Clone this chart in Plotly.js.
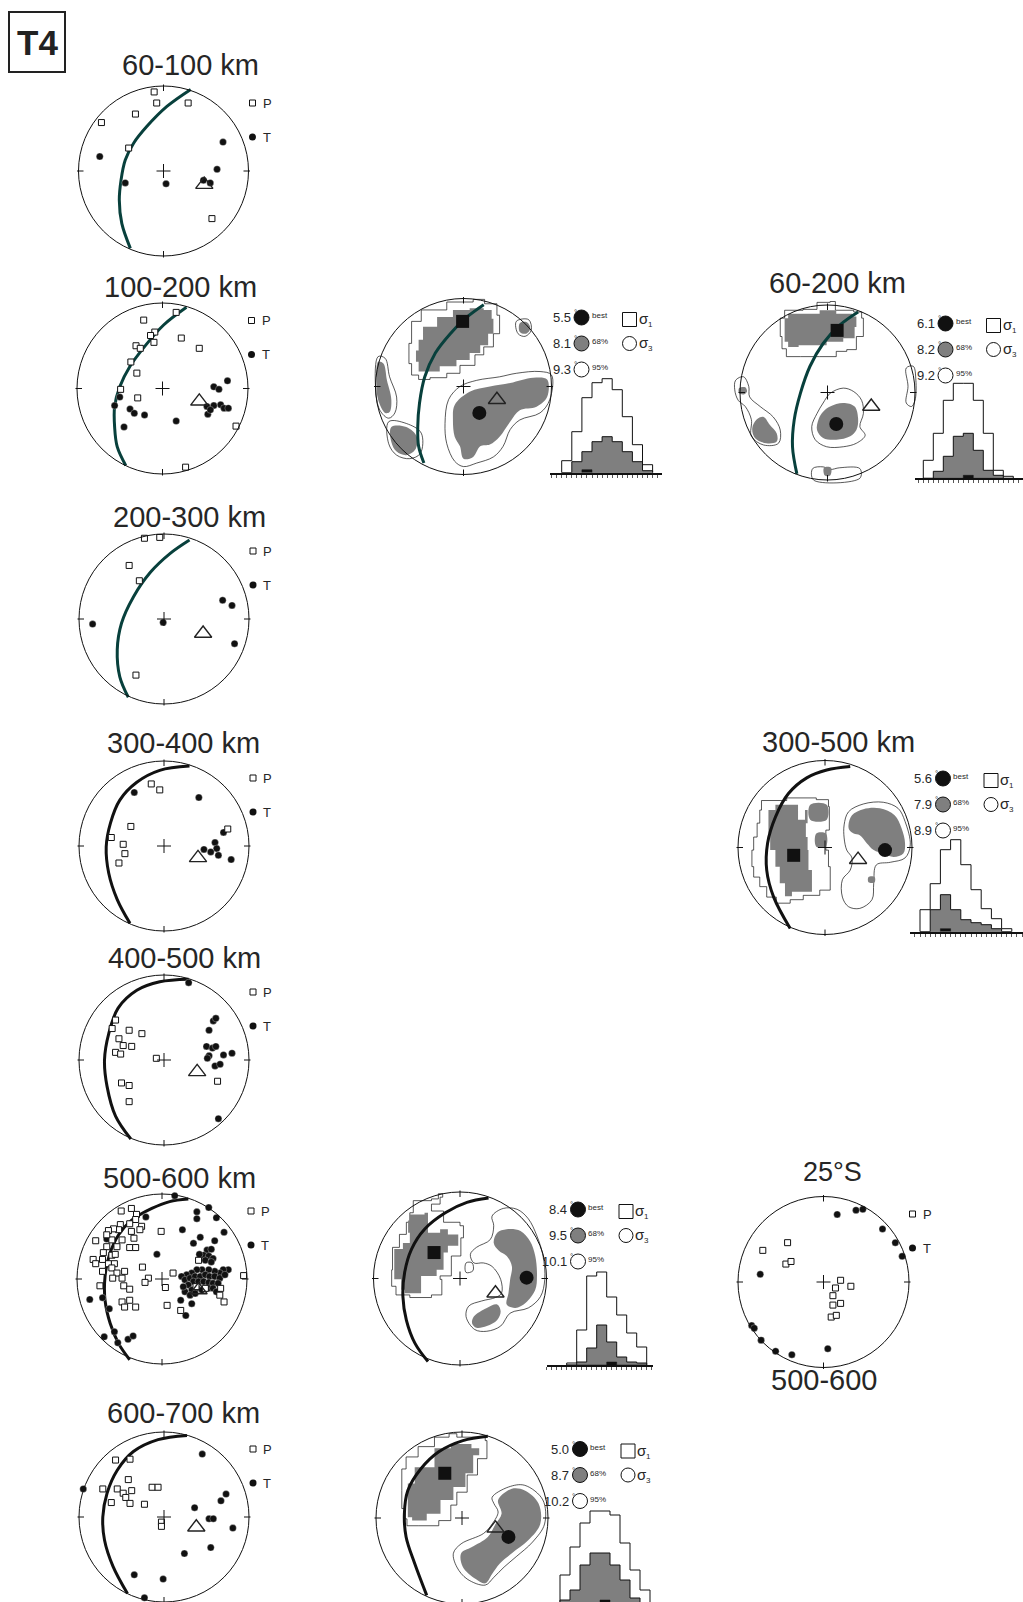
<!DOCTYPE html>
<html><head><meta charset="utf-8">
<script src="https://cdn.plot.ly/plotly-3.0.1.min.js"></script>
<style>html,body{margin:0;padding:0;background:#fff}#chart{width:1023px;height:1602px}</style>
</head><body><div id="chart"></div>
<script>
// ================= DATA (unit-circle stereonet coordinates: x = east, y = north) =================
const PANEL_LABEL = 'T4';
const TITLE_60_100 = '60-100 km', TITLE_100_200 = '100-200 km', TITLE_200_300 = '200-300 km',
      TITLE_300_400 = '300-400 km', TITLE_400_500 = '400-500 km', TITLE_500_600 = '500-600 km',
      TITLE_600_700 = '600-700 km', TITLE_60_200 = '60-200 km', TITLE_300_500 = '300-500 km',
      TITLE_25S = '25°S', TITLE_25S_DEPTH = '500-600';
const AXIS_LABELS = ['P', 'T'];
const CONF_LABELS = ['best', '68%', '95%'];
const STRESS_LABELS = ['σ', 'σ'], STRESS_SUBS = ['1', '3'];

// ---- 60-100 km ----
const P_60_100 = [[-0.11,0.93],[-0.08,0.80],[0.29,0.80],[-0.33,0.67],[-0.73,0.57],[-0.41,0.27],[0.57,-0.56]];
const T_60_100 = [[0.70,0.34],[-0.75,0.17],[-0.45,-0.14],[0.03,-0.15],[0.63,0.02],[0.47,-0.11],[0.55,-0.14]];
const AX_60_100 = [0.48,-0.16];
const GC_60_100 = [[0.32,0.96],[0.04,0.76],[-0.20,0.52],[-0.35,0.33],[-0.45,0.13],[-0.50,-0.11],[-0.52,-0.34],[-0.49,-0.62],[-0.39,-0.91]];

// ---- 100-200 km ----
const P_100_200 = [[-0.22,0.80],[0.16,0.89],[-0.09,0.66],[-0.14,0.62],[-0.10,0.54],[0.22,0.59],[0.43,0.47],[-0.31,0.50],[-0.26,0.47],[-0.37,0.31],[-0.30,0.18],[-0.49,-0.01],[-0.29,-0.11],[0.86,-0.44],[0.27,-0.92]];
const T_100_200 = [[-0.50,-0.10],[-0.56,-0.20],[-0.38,-0.24],[-0.33,-0.29],[-0.21,-0.31],[-0.45,-0.45],[0.16,-0.38],[0.60,0.02],[0.66,-0.01],[0.76,0.09],[0.52,-0.21],[0.53,-0.30],[0.60,-0.20],[0.68,-0.19],[0.72,-0.23],[0.77,-0.23],[0.56,-0.25]];
const AX_100_200 = [0.43,-0.15];
const GC_100_200 = [[0.28,0.95],[0.01,0.74],[-0.21,0.49],[-0.38,0.26],[-0.50,0.02],[-0.56,-0.21],[-0.56,-0.45],[-0.53,-0.68],[-0.43,-0.90]];

// ---- 200-300 km ----
const P_200_300 = [[-0.23,0.95],[-0.05,0.96],[-0.41,0.63],[-0.29,0.45],[-0.33,-0.66]];
const T_200_300 = [[-0.84,-0.06],[-0.01,-0.04],[0.69,0.22],[0.80,0.16],[0.83,-0.29]];
const AX_200_300 = [0.46,-0.17];
const GC_200_300 = [[0.30,0.93],[0.07,0.77],[-0.16,0.55],[-0.36,0.26],[-0.50,-0.05],[-0.55,-0.36],[-0.52,-0.68],[-0.42,-0.92]];

// ---- 300-400 km ----
const P_300_400 = [[-0.15,0.73],[-0.05,0.66],[-0.39,0.23],[-0.62,0.10],[-0.48,0.02],[-0.46,-0.09],[-0.53,-0.20],[0.75,0.20]];
const T_300_400 = [[-0.35,0.63],[0.41,0.57],[0.70,0.16],[0.60,0.04],[0.62,-0.03],[0.47,-0.04],[0.55,-0.07],[0.64,-0.11],[0.79,-0.16]];
const AX_300_400 = [0.40,-0.14];
const GC_300_400 = [[0.30,0.94],[-0.05,0.89],[-0.32,0.75],[-0.52,0.54],[-0.63,0.27],[-0.68,-0.01],[-0.65,-0.32],[-0.55,-0.63],[-0.40,-0.91]];

// ---- 400-500 km ----
const P_400_500 = [[-0.57,0.47],[-0.61,0.37],[-0.41,0.35],[-0.26,0.31],[-0.53,0.25],[-0.48,0.17],[-0.38,0.16],[-0.57,0.09],[-0.51,0.07],[-0.09,0.02],[-0.50,-0.27],[-0.41,-0.30],[-0.41,-0.49],[0.63,-0.25]];
const T_400_500 = [[0.29,0.91],[0.58,0.46],[0.61,0.49],[0.53,0.35],[0.50,0.16],[0.57,0.14],[0.61,0.16],[0.53,0.05],[0.51,0.02],[0.70,0.06],[0.80,0.08],[0.60,-0.07],[0.66,-0.05],[0.64,-0.69]];
const AX_400_500 = [0.39,-0.14];
const GC_400_500 = [[0.29,0.95],[-0.05,0.92],[-0.32,0.82],[-0.54,0.61],[-0.65,0.31],[-0.70,0.00],[-0.67,-0.31],[-0.57,-0.66],[-0.39,-0.93]];

// ---- 500-600 km ----
const P_500_600 = [[-0.48,0.80],[-0.36,0.83],[-0.30,0.76],[-0.31,0.70],[-0.24,0.62],[-0.38,0.65],[-0.49,0.64],[-0.51,0.58],[-0.57,0.59],[-0.63,0.57],[-0.59,0.46],[-0.65,0.52],[-0.47,0.46],[-0.36,0.56],[-0.33,0.48],[-0.38,0.37],[-0.31,0.37],[-0.78,0.45],[-0.65,0.38],[-0.69,0.31],[-0.53,0.38],[-0.59,0.28],[-0.55,0.29],[-0.81,0.23],[-0.78,0.18],[-0.70,0.23],[-0.63,0.18],[-0.56,0.18],[-0.44,0.09],[-0.70,0.09],[-0.59,0.13],[-0.53,0.07],[-0.58,0.01],[-0.47,0.01],[-0.73,-0.08],[-0.45,-0.08],[-0.38,-0.12],[-0.47,-0.27],[-0.38,-0.25],[-0.31,-0.33],[-0.44,-0.33],[-0.23,0.14],[-0.16,0.01],[-0.20,-0.04],[-0.01,0.56],[0.13,0.07],[0.04,-0.10],[0.06,-0.31],[0.22,-0.37],[0.69,-0.11],[0.68,-0.19],[0.73,-0.27],[0.96,0.04],[0.43,0.22],[0.40,-0.09],[0.51,-0.11],[-0.26,0.58]];
const T_500_600 = [[0.15,0.98],[-0.19,0.73],[0.41,0.79],[0.41,0.71],[0.55,0.84],[0.64,0.72],[0.73,0.55],[0.24,0.58],[0.45,0.49],[0.37,0.42],[0.62,0.45],[-0.06,0.29],[-0.65,0.47],[-0.85,-0.24],[-0.70,-0.22],[-0.62,-0.35],[-0.68,-0.68],[-0.56,-0.62],[-0.52,-0.75],[-0.40,-0.71],[-0.34,-0.67],[0.22,-0.25],[0.28,-0.43],[0.35,-0.29],
  [0.53,0.34],[0.58,0.35],[0.49,0.28],[0.55,0.27],[0.60,0.24],[0.44,0.29],[0.51,0.22],[0.58,0.20],[0.78,0.11],[0.72,0.11],[0.68,0.07],[0.62,0.09],[0.55,0.11],[0.47,0.11],[0.41,0.11],[0.35,0.07],[0.29,0.05],[0.23,0.03],[0.27,-0.01],[0.33,0.01],[0.39,0.03],[0.45,0.03],[0.51,0.05],[0.56,0.03],[0.62,0.03],[0.68,0.01],[0.74,0.05],[0.37,-0.03],[0.43,-0.03],[0.49,-0.03],[0.55,-0.04],[0.60,-0.05],[0.66,-0.05],[0.31,-0.07],[0.35,-0.13],[0.41,-0.11],[0.47,-0.13],[0.55,-0.11],[0.60,-0.11],[0.27,-0.15],[0.33,-0.19],[0.39,-0.17],[0.64,-0.15],[0.25,-0.09]];
const AX_500_600 = [0.43,-0.13];
const GC_500_600 = [[0.31,0.94],[0.09,0.91],[-0.12,0.83],[-0.36,0.69],[-0.51,0.52],[-0.62,0.28],[-0.67,0.03],[-0.67,-0.25],[-0.61,-0.52],[-0.51,-0.76],[-0.38,-0.95]];

// ---- 600-700 km ----
const P_600_700 = [[-0.57,0.67],[-0.40,0.68],[-0.42,0.44],[-0.72,0.33],[-0.55,0.33],[-0.38,0.31],[-0.48,0.28],[-0.45,0.23],[-0.62,0.17],[-0.40,0.16],[-0.23,0.15],[-0.14,0.35],[-0.07,0.35],[-0.03,-0.06],[-0.03,-0.11]];
const T_600_700 = [[-0.95,0.33],[0.45,0.74],[0.73,0.27],[0.67,0.19],[0.36,0.11],[0.53,-0.02],[0.58,-0.02],[0.81,-0.13],[0.55,-0.36],[0.24,-0.43],[-0.35,-0.68],[-0.01,-0.73],[-0.23,-0.95]];
const AX_600_700 = [0.38,-0.12];
const GC_600_700 = [[0.27,0.96],[-0.07,0.91],[-0.36,0.77],[-0.55,0.55],[-0.67,0.28],[-0.72,0.00],[-0.70,-0.27],[-0.60,-0.58],[-0.43,-0.90]];

// ---- 25°S, 500-600 km ----
const P_25S = [[-0.42,0.46],[-0.71,0.37],[-0.44,0.21],[-0.38,0.24],[0.20,0.02],[0.14,-0.07],[0.32,-0.05],[0.11,-0.16],[0.11,-0.27],[0.20,-0.25],[0.09,-0.41],[0.15,-0.39]];
const T_25S = [[0.16,0.79],[0.38,0.84],[0.46,0.85],[0.69,0.62],[0.84,0.46],[0.92,0.30],[-0.74,0.09],[-0.84,-0.51],[-0.81,-0.54],[-0.73,-0.68],[-0.56,-0.81],[-0.37,-0.85],[0.05,-0.78]];

// ---- Bootstrap: 100-200 km ----
const B1_MISFIT = ['5.5','8.1','9.3'];
const B1_S1_95 = [[-0.59,0.74],[-0.48,0.87],[-0.19,0.96],[0.11,0.99],[0.24,0.94],[0.38,0.81],[0.41,0.60],[0.34,0.45],[0.23,0.36],[0.13,0.24],[-0.04,0.15],[-0.19,0.10],[-0.38,0.08],[-0.51,0.13],[-0.59,0.26],[-0.62,0.49]];
const B1_S1_68 = [[-0.51,0.53],[-0.46,0.68],[-0.30,0.79],[-0.12,0.87],[0.07,0.89],[0.23,0.87],[0.32,0.77],[0.34,0.60],[0.28,0.47],[0.19,0.38],[0.07,0.30],[-0.08,0.23],[-0.27,0.17],[-0.42,0.17],[-0.51,0.28],[-0.54,0.41]];
const B1_S3_95 = [[-0.17,-0.15],[-0.04,0.00],[0.15,0.07],[0.41,0.11],[0.60,0.15],[0.87,0.17],[1.00,0.13],[0.98,-0.15],[0.87,-0.30],[0.64,-0.38],[0.53,-0.49],[0.45,-0.68],[0.34,-0.80],[0.15,-0.87],[0.00,-0.91],[-0.10,-0.85],[-0.19,-0.65],[-0.21,-0.42]];
const B1_S3_68 = [[-0.10,-0.21],[0.07,-0.06],[0.30,0.00],[0.53,0.04],[0.79,0.10],[0.95,0.08],[0.95,-0.12],[0.83,-0.23],[0.64,-0.27],[0.53,-0.40],[0.41,-0.57],[0.30,-0.66],[0.19,-0.68],[0.11,-0.80],[0.00,-0.82],[-0.04,-0.68],[-0.10,-0.57],[-0.12,-0.38]];
const B1_X95 = [
  [[0.60,0.74],[0.74,0.76],[0.77,0.64],[0.70,0.57],[0.62,0.60]],
  [[-0.97,0.34],[-0.89,0.32],[-0.84,0.11],[-0.76,-0.12],[-0.78,-0.30],[-0.85,-0.36],[-0.95,-0.27],[-1.0,0.00]],
  [[-0.85,-0.40],[-0.65,-0.42],[-0.48,-0.53],[-0.49,-0.76],[-0.61,-0.82],[-0.76,-0.78],[-0.85,-0.65]]];
const B1_X68 = [
  [[0.64,0.72],[0.72,0.73],[0.76,0.66],[0.71,0.60],[0.64,0.62]],
  [[-0.97,0.28],[-0.91,0.26],[-0.87,0.07],[-0.82,-0.15],[-0.84,-0.29],[-0.89,-0.30],[-0.97,-0.15],[-0.99,0.07]],
  [[-0.82,-0.46],[-0.65,-0.46],[-0.53,-0.57],[-0.55,-0.72],[-0.65,-0.78],[-0.76,-0.74],[-0.82,-0.63]]];
const B1_BEST_S1 = [-0.01,0.74], B1_BEST_S3 = [0.18,-0.30], B1_AX = [0.38,-0.15];
const B1_GC = [[0.23,0.93],[0.04,0.79],[-0.15,0.60],[-0.32,0.38],[-0.44,0.11],[-0.50,-0.19],[-0.52,-0.46],[-0.51,-0.68],[-0.45,-0.87]];
const B1_HIST_ALL = [12,41,75,90,94,83,56,28,8];
const B1_HIST_68  = [0,11,21,31,36,31,21,11,2];
const B1_HIST_BEST= [0,0,3,0,0,0,0,0,0];

// ---- Bootstrap: 60-200 km ----
const B2_MISFIT = ['6.1','8.2','9.2'];
const B2_S1_95 = [[-0.54,0.85],[-0.49,0.94],[-0.28,0.95],[-0.12,1.03],[0.03,1.04],[0.09,0.94],[0.30,0.92],[0.39,0.85],[0.41,0.64],[0.33,0.49],[0.22,0.47],[0.10,0.41],[-0.09,0.41],[-0.31,0.41],[-0.47,0.50],[-0.52,0.64]];
const B2_S1_68 = [[-0.49,0.85],[-0.45,0.90],[-0.28,0.90],[-0.09,0.94],[0.10,0.90],[0.28,0.87],[0.33,0.75],[0.31,0.62],[0.18,0.58],[-0.01,0.54],[-0.20,0.54],[-0.33,0.52],[-0.45,0.58],[-0.49,0.70]];
const B2_S3_95 = [[0.03,-0.01],[0.18,0.05],[0.30,0.01],[0.39,-0.09],[0.41,-0.24],[0.37,-0.39],[0.43,-0.49],[0.33,-0.58],[0.18,-0.62],[-0.01,-0.62],[-0.14,-0.54],[-0.18,-0.39],[-0.12,-0.24],[-0.05,-0.12]];
const B2_S3_68 = [[0.03,-0.16],[0.18,-0.12],[0.31,-0.16],[0.35,-0.30],[0.33,-0.43],[0.26,-0.50],[0.10,-0.54],[-0.05,-0.52],[-0.12,-0.43],[-0.10,-0.30],[-0.05,-0.22]];
const B2_X95 = [
  [[-1.05,0.14],[-0.96,0.18],[-0.90,0.07],[-0.89,-0.05],[-0.77,-0.16],[-0.62,-0.28],[-0.54,-0.43],[-0.56,-0.58],[-0.73,-0.60],[-0.87,-0.50],[-0.87,-0.31],[-0.94,-0.16],[-1.02,-0.09],[-1.06,0.03]],
  [[0.90,0.28],[0.98,0.30],[1.01,0.14],[1.00,-0.09],[0.96,-0.16],[0.90,-0.12],[0.92,0.07]],
  [[-0.17,-0.87],[-0.05,-0.85],[0.03,-0.88],[0.14,-0.86],[0.37,-0.87],[0.37,-0.98],[-0.16,-1.0]]];
const B2_X68 = [
  [[-1.01,0.05],[-0.94,0.06],[-0.92,0.01],[-0.95,-0.02],[-1.01,-0.01]],
  [[-0.81,-0.31],[-0.73,-0.28],[-0.66,-0.37],[-0.58,-0.47],[-0.58,-0.56],[-0.70,-0.58],[-0.83,-0.52],[-0.86,-0.41]],
  [[-0.04,-0.86],[0.04,-0.86],[0.03,-0.95],[-0.03,-0.95]]];
const B2_BEST_S1 = [0.11,0.71], B2_BEST_S3 = [0.10,-0.36], B2_AX = [0.50,-0.16];
const B2_GC = [[0.35,0.92],[0.14,0.77],[-0.05,0.56],[-0.20,0.30],[-0.31,-0.01],[-0.38,-0.31],[-0.40,-0.62],[-0.35,-0.93]];
const B2_HIST_ALL = [18,45,78,95,95,78,45,8,2];
const B2_HIST_68  = [0,7,22,42,45,28,8,3,0];
const B2_HIST_BEST= [0,0,0,0,3,0,0,0,0];

// ---- Bootstrap: 300-500 km ----
const B3_MISFIT = ['5.6','7.9','8.9'];
const B3_S1_95 = [[-0.75,0.43],[-0.73,0.54],[-0.44,0.57],[-0.10,0.55],[0.04,0.47],[0.05,0.20],[0.01,-0.03],[0.04,-0.22],[0.06,-0.49],[-0.06,-0.55],[-0.25,-0.60],[-0.40,-0.64],[-0.56,-0.57],[-0.67,-0.45],[-0.75,-0.34],[-0.82,-0.22],[-0.84,-0.03],[-0.82,0.12],[-0.78,0.28]];
const B3_S1_68 = [[-0.65,0.43],[-0.57,0.49],[-0.34,0.49],[-0.31,0.43],[-0.31,0.32],[-0.25,0.32],[-0.23,0.43],[-0.20,0.47],[-0.20,0.28],[-0.22,0.12],[-0.20,-0.03],[-0.19,-0.26],[-0.15,-0.51],[-0.38,-0.56],[-0.46,-0.41],[-0.52,-0.22],[-0.57,-0.03],[-0.63,0.16],[-0.65,0.32]];
const B3_S3_95 = [[0.22,0.26],[0.27,0.41],[0.44,0.50],[0.67,0.52],[0.84,0.45],[0.92,0.30],[0.98,0.03],[0.92,-0.12],[0.75,-0.17],[0.59,-0.20],[0.56,-0.41],[0.54,-0.60],[0.40,-0.70],[0.27,-0.68],[0.20,-0.57],[0.20,-0.37],[0.29,-0.26],[0.31,-0.12],[0.25,-0.03],[0.22,0.11]];
const B3_S3_68 = [[0.27,0.26],[0.31,0.37],[0.44,0.44],[0.63,0.45],[0.80,0.37],[0.88,0.22],[0.92,0.05],[0.90,-0.07],[0.79,-0.11],[0.67,-0.07],[0.56,-0.03],[0.48,0.05],[0.40,0.14],[0.33,0.16],[0.28,0.20]];
const B3_X95 = [];
const B3_X68 = [
  [[-0.17,0.49],[0.02,0.49],[0.02,0.32],[-0.17,0.32]],
  [[-0.10,0.16],[0.01,0.16],[0.01,0.01],[-0.10,0.01]],
  [[0.50,-0.34],[0.57,-0.34],[0.57,-0.40],[0.50,-0.40]]];
const B3_BEST_S1 = [-0.36,-0.09], B3_BEST_S3 = [0.69,-0.03], B3_AX = [0.38,-0.14];
const B3_GC = [[0.29,0.93],[0.02,0.89],[-0.21,0.80],[-0.42,0.62],[-0.57,0.35],[-0.66,0.05],[-0.67,-0.26],[-0.59,-0.57],[-0.40,-0.93]];
const B3_HIST_ALL = [22,48,82,92,67,42,23,13,3];
const B3_HIST_68  = [0,22,37,22,12,9,7,3,0];
const B3_HIST_BEST= [0,0,3,0,0,0,0,0,0];

// ---- Bootstrap: 500-600 km ----
const B4_MISFIT = ['8.4','9.5','10.1'];
const B4_S1_95 = [[-0.58,0.76],[-0.54,0.90],[-0.33,0.92],[-0.25,0.98],[-0.20,0.94],[-0.23,0.86],[-0.33,0.78],[-0.19,0.65],[0.00,0.61],[0.04,0.47],[0.01,0.26],[-0.10,0.03],[-0.23,-0.01],[-0.21,-0.19],[-0.33,-0.22],[-0.58,-0.19],[-0.74,-0.09],[-0.79,0.10],[-0.78,0.36],[-0.70,0.51],[-0.62,0.65]];
const B4_S1_68 = [[-0.58,0.74],[-0.41,0.76],[-0.37,0.65],[-0.37,0.53],[-0.23,0.57],[-0.14,0.51],[-0.04,0.51],[-0.02,0.38],[-0.14,0.30],[-0.19,0.10],[-0.27,0.03],[-0.45,-0.07],[-0.45,-0.17],[-0.64,-0.13],[-0.68,-0.01],[-0.76,0.18],[-0.76,0.34],[-0.66,0.41],[-0.58,0.53],[-0.60,0.67]];
const B4_S3_95 = [[0.37,0.72],[0.50,0.81],[0.66,0.80],[0.79,0.69],[0.89,0.49],[0.96,0.26],[0.98,-0.01],[0.93,-0.21],[0.79,-0.34],[0.58,-0.40],[0.47,-0.55],[0.31,-0.61],[0.17,-0.59],[0.07,-0.44],[0.10,-0.32],[0.25,-0.26],[0.41,-0.22],[0.48,-0.17],[0.47,-0.01],[0.37,0.14],[0.27,0.18],[0.16,0.18],[0.12,0.28],[0.19,0.36],[0.35,0.45],[0.39,0.61]];
const B4_S3_68 = [[0.43,0.53],[0.54,0.57],[0.70,0.55],[0.81,0.43],[0.87,0.26],[0.89,0.03],[0.87,-0.13],[0.76,-0.28],[0.64,-0.34],[0.54,-0.30],[0.56,-0.17],[0.58,-0.01],[0.60,0.14],[0.54,0.26],[0.45,0.32],[0.39,0.41]];
const B4_X95 = [[[0.07,0.18],[0.14,0.18],[0.15,0.09],[0.07,0.07]]];
const B4_X68 = [[[0.16,-0.44],[0.31,-0.34],[0.43,-0.30],[0.47,-0.38],[0.43,-0.48],[0.31,-0.55],[0.19,-0.57],[0.14,-0.52]]];
const B4_BEST_S1 = [-0.30,0.30], B4_BEST_S3 = [0.77,0.01], B4_AX = [0.41,-0.17];
const B4_GC = [[0.33,0.93],[0.08,0.88],[-0.17,0.76],[-0.41,0.57],[-0.56,0.34],[-0.64,0.07],[-0.66,-0.21],[-0.62,-0.48],[-0.52,-0.75],[-0.37,-0.96]];
const B4_HIST_ALL = [2,35,89,93,68,50,32,18];
const B4_HIST_68  = [0,3,17,40,23,8,3,2];
const B4_HIST_BEST= [0,0,0,0,3,0,0,0];

// ---- Bootstrap: 600-700 km ----
const B5_MISFIT = ['5.0','8.7','10.2'];
const B5_S1_95 = [[-0.70,0.57],[-0.65,0.71],[-0.51,0.83],[-0.32,0.94],[-0.15,0.98],[-0.06,0.94],[0.27,0.90],[0.29,0.69],[0.18,0.50],[0.06,0.30],[-0.06,0.15],[-0.13,-0.03],[-0.27,-0.09],[-0.51,-0.09],[-0.64,-0.01],[-0.66,0.11],[-0.70,0.32]];
const B5_S1_68 = [[-0.63,0.40],[-0.55,0.59],[-0.32,0.81],[-0.13,0.86],[0.11,0.81],[0.20,0.73],[0.13,0.52],[0.04,0.36],[-0.10,0.21],[-0.25,0.05],[-0.41,-0.03],[-0.58,0.01],[-0.63,0.17]];
const B5_S3_95 = [[0.35,0.24],[0.54,0.36],[0.73,0.38],[0.94,0.21],[0.96,-0.07],[0.82,-0.28],[0.63,-0.45],[0.49,-0.57],[0.37,-0.69],[0.27,-0.78],[0.06,-0.71],[-0.06,-0.57],[-0.10,-0.41],[-0.01,-0.30],[0.25,-0.18],[0.35,-0.07],[0.42,0.07],[0.37,0.17]];
const B5_S3_68 = [[0.42,0.21],[0.58,0.34],[0.73,0.32],[0.89,0.17],[0.91,-0.07],[0.77,-0.26],[0.58,-0.41],[0.44,-0.53],[0.35,-0.65],[0.27,-0.76],[0.16,-0.71],[0.01,-0.57],[-0.01,-0.41],[0.11,-0.34],[0.30,-0.22],[0.39,-0.07],[0.46,0.05]];
const B5_X95 = [], B5_X68 = [];
const B5_BEST_S1 = [-0.20,0.52], B5_BEST_S3 = [0.54,-0.22], B5_AX = [0.39,-0.12];
const B5_GC = [[0.30,0.95],[0.01,0.90],[-0.27,0.77],[-0.48,0.57],[-0.63,0.32],[-0.67,0.05],[-0.65,-0.22],[-0.55,-0.53],[-0.41,-0.90]];
const B5_HIST_ALL = [31,59,83,95,95,91,63,36,16];
const B5_HIST_68  = [6,16,41,53,53,41,26,8,0];
const B5_HIST_BEST= [0,0,0,0,6,0,0,0,0];

// ================= LAYOUT / RENDERING =================
const W = 1023, H = 1602;
const FONT = 'Liberation Sans, Arial, Helvetica, sans-serif';
const INK = '#111', TXT = '#262626', GRAY = '#7f7f7f', TEAL = '#08403c';
const traces = [], shapes = [], annotations = [];
const layout = {width: W, height: H, margin: {l:0, r:0, t:0, b:0}, paper_bgcolor: '#fff',
  plot_bgcolor: 'rgba(0,0,0,0)', showlegend: false, shapes, annotations,
  font: {family: FONT, color: TXT}};
let axCount = 0;
function addAxes(px0, px1, py0, py1, xr, yr) {
  axCount++;
  const s = axCount === 1 ? '' : String(axCount);
  layout['xaxis' + s] = {domain: [px0 / W, px1 / W], range: xr, visible: false, fixedrange: true,
    anchor: 'y' + s, showgrid: false, zeroline: false};
  layout['yaxis' + s] = {domain: [1 - py1 / H, 1 - py0 / H], range: yr, visible: false, fixedrange: true,
    anchor: 'x' + s, showgrid: false, zeroline: false};
  return {x: 'x' + s, y: 'y' + s, xa: 'xaxis' + s, ya: 'yaxis' + s};
}
function netAxes(cx, cy, R) {
  const E = 2.4;
  const px0 = Math.max(0, cx - E * R), px1 = Math.min(W, cx + E * R);
  const py0 = Math.max(0, cy - E * R), py1 = Math.min(H, cy + E * R);
  const a = addAxes(px0, px1, py0, py1, [(px0 - cx) / R, (px1 - cx) / R], [(cy - py1) / R, (cy - py0) / R]);
  a.R = R; return a;
}
const xs = pts => pts.map(p => p[0]), ys = pts => pts.map(p => p[1]);
function base(a) { return {type: 'scatter', xaxis: a.x, yaxis: a.y, hoverinfo: 'skip', cliponaxis: false, showlegend: false}; }
function note(a, x, y, text, size, anchor, yanchor) {
  annotations.push({xref: a.x, yref: a.y, x: x, y: y, text: text, showarrow: false,
    xanchor: anchor || 'left', yanchor: yanchor || 'middle', font: {size: size, color: TXT, family: FONT}});
}
function mk(a, x, y, symbol, size, color, lineColor, lw) {
  traces.push(Object.assign(base(a), {mode: 'markers', x: [x], y: [y],
    marker: {symbol: symbol, size: size, color: color, line: {color: lineColor, width: lw}}}));
}

function frame(a) {
  const R = a.R, tin = 1 - 5 / R, tout = 1 + 1.5 / R;
  shapes.push({type: 'circle', xref: a.x, yref: a.y, x0: -1, x1: 1, y0: -1, y1: 1, line: {color: INK, width: 1}, layer: 'above'});
  [[0,1],[0,-1],[1,0],[-1,0]].forEach(([dx, dy]) => shapes.push({type: 'line', xref: a.x, yref: a.y,
    x0: dx * tin, y0: dy * tin, x1: dx * tout, y1: dy * tout, line: {color: INK, width: 1}, layer: 'above'}));
  mk(a, 0, 0, 'cross-thin', 10, INK, INK, 1);
}
function greatCircle(a, pts, color) {
  traces.push(Object.assign(base(a), {mode: 'lines', x: xs(pts), y: ys(pts),
    line: {color: color, width: 3, shape: 'spline', smoothing: 1}}));
}
function points(a, P, T) {
  traces.push(Object.assign(base(a), {mode: 'markers', x: xs(T), y: ys(T),
    marker: {symbol: 'circle', size: 7, color: INK, line: {color: '#fff', width: 0.3}}}));
  traces.push(Object.assign(base(a), {mode: 'markers', x: xs(P), y: ys(P),
    marker: {symbol: 'square', size: 6, color: '#fff', line: {color: INK, width: 1}}}));
}
function axisMark(a, p) {
  traces.push(Object.assign(base(a), {mode: 'markers', x: [p[0]], y: [p[1]],
    marker: {symbol: 'triangle-up-open', size: 15, color: '#222', line: {width: 1.4}}}));
}
function ptLegend(a) {
  const R = a.R;
  mk(a, 89 / R, 68 / R, 'square', 6, '#fff', INK, 1);
  mk(a, 89 / R, 34 / R, 'circle', 7, INK, INK, 0);
  note(a, 97 / R, 68 / R, AXIS_LABELS[0], 13);
  note(a, 97 / R, 34 / R, AXIS_LABELS[1], 13);
}
function poly(a, pts, fill, lineColor, lw, shape) {
  const p = pts.concat([pts[0]]);
  traces.push(Object.assign(base(a), {mode: 'lines', x: xs(p), y: ys(p), fill: 'toself', fillcolor: fill,
    line: {color: lineColor, width: lw, shape: shape, smoothing: 1}}));
}
function title(text, x, y, size) {
  annotations.push({xref: 'paper', yref: 'paper', x: x / W, y: 1 - y / H, text: text, showarrow: false,
    xanchor: 'center', yanchor: 'middle', font: {size: size || 29, color: TXT, family: FONT}});
}
function plainNet(cfg) {
  const a = netAxes(cfg.cx, cfg.cy, cfg.R);
  if (cfg.gc) greatCircle(a, cfg.gc, cfg.gcColor);
  points(a, cfg.P, cfg.T);
  if (cfg.ax) axisMark(a, cfg.ax);
  frame(a); ptLegend(a);
  return a;
}
function histogram(h, all, g68, best) {
  const top = h.B - 112, bot = Math.min(H, h.B);
  const a = addAxes(h.ax0, h.ax1, top, bot, [(h.ax0 - h.L) / h.w, (h.ax1 - h.L) / h.w], [h.B - bot, 112]);
  Object.assign(layout[a.xa], {visible: true, showline: h.line !== false, linecolor: INK, linewidth: 2,
    ticks: h.line !== false ? 'outside' : '', ticklen: 3, tickwidth: 0.7, tickcolor: INK, tick0: 0, dtick: 0.5,
    showticklabels: false});
  const step = c => { const X = [0], Y = [0]; c.forEach((v, i) => { X.push(i); Y.push(v); });
    X.push(c.length); Y.push(c[c.length - 1]); X.push(c.length); Y.push(0); return [X, Y]; };
  [[all, '#fff', 1], [g68, GRAY, 1], [best, INK, 0.5]].forEach(([c, f, lw]) => {
    const [X, Y] = step(c);
    traces.push({type: 'scatter', mode: 'lines', x: X, y: Y, xaxis: a.x, yaxis: a.y, fill: 'tozeroy',
      fillcolor: f, line: {color: INK, width: lw, shape: 'hv'}, hoverinfo: 'skip', showlegend: false, cliponaxis: true});
  });
}
function bootNet(cfg) {
  const a = netAxes(cfg.cx, cfg.cy, cfg.R), R = cfg.R;
  cfg.x95.forEach(p => poly(a, p, '#fff', INK, 0.7, 'spline'));
  poly(a, cfg.s1_95, '#fff', INK, 0.7, 'hv');
  poly(a, cfg.s3_95, '#fff', INK, 0.7, 'spline');
  cfg.x68.forEach(p => poly(a, p, GRAY, 'rgba(0,0,0,0)', 0, 'spline'));
  poly(a, cfg.s1_68, GRAY, 'rgba(0,0,0,0)', 0, 'hv');
  poly(a, cfg.s3_68, GRAY, 'rgba(0,0,0,0)', 0, 'spline');
  greatCircle(a, cfg.gc, cfg.gcColor);
  mk(a, cfg.b1[0], cfg.b1[1], 'square', 13, INK, INK, 0);
  mk(a, cfg.b3[0], cfg.b3[1], 'circle', 14, INK, INK, 0);
  axisMark(a, cfg.ax);
  frame(a);
  // misfit / confidence legend
  const cxL = 118 / R, rows = [69 / R, 43 / R, 17 / R], sx = 166 / R;
  [INK, GRAY, '#fff'].forEach((c, i) => mk(a, cxL, rows[i], 'circle', 15, c, INK, 1));
  mk(a, sx, rows[0] - 2 / R, 'square', 14, '#fff', INK, 1);
  mk(a, sx, rows[1], 'circle', 14, '#fff', INK, 1);
  [0, 1].forEach(i => {
    const yy = i === 0 ? rows[0] - 2 / R : rows[1];
    note(a, (sx * R + 7) / R, yy + 1 / R, STRESS_LABELS[i], 15);
    note(a, (sx * R + 16) / R, yy - 5 / R, STRESS_SUBS[i], 8);
  });
  cfg.misfit.forEach((m, i) => {
    note(a, (118 - 9) / R, rows[i], m, 13, 'right');
    note(a, (118 - 10) / R, rows[i] + 5 / R, '°', 8, 'left');
    note(a, (118 + 8) / R, rows[i] + 2 / R, CONF_LABELS[i], 8);
  });
  histogram(cfg.hist, cfg.all, cfg.g68, cfg.best);
}

// ---- panel label ----
shapes.push({type: 'rect', xref: 'paper', yref: 'paper', x0: 9 / W, x1: 65 / W, y0: 1 - 72 / H, y1: 1 - 12 / H,
  line: {color: '#222', width: 2}, fillcolor: 'rgba(0,0,0,0)'});
annotations.push({xref: 'paper', yref: 'paper', x: 37 / W, y: 1 - 43 / H, text: '<b>' + PANEL_LABEL + '</b>', showarrow: false,
  xanchor: 'center', yanchor: 'middle', font: {size: 35, color: '#222', family: FONT}});

// ---- left column + 25°S ----
plainNet({cx: 163.5, cy: 171, R: 85, P: P_60_100, T: T_60_100, ax: AX_60_100, gc: GC_60_100, gcColor: TEAL});
plainNet({cx: 162.5, cy: 388.5, R: 85.5, P: P_100_200, T: T_100_200, ax: AX_100_200, gc: GC_100_200, gcColor: TEAL});
plainNet({cx: 164, cy: 619, R: 85, P: P_200_300, T: T_200_300, ax: AX_200_300, gc: GC_200_300, gcColor: TEAL});
plainNet({cx: 164, cy: 846, R: 85, P: P_300_400, T: T_300_400, ax: AX_300_400, gc: GC_300_400, gcColor: INK});
plainNet({cx: 164, cy: 1060, R: 85, P: P_400_500, T: T_400_500, ax: AX_400_500, gc: GC_400_500, gcColor: INK});
plainNet({cx: 162, cy: 1279, R: 85, P: P_500_600, T: T_500_600, ax: AX_500_600, gc: GC_500_600, gcColor: INK});
plainNet({cx: 164, cy: 1517, R: 85, P: P_600_700, T: T_600_700, ax: AX_600_700, gc: GC_600_700, gcColor: INK});
plainNet({cx: 823.5, cy: 1282, R: 85.5, P: P_25S, T: T_25S});

// ---- bootstrap panels ----
bootNet({cx: 463.5, cy: 386.5, R: 88, misfit: B1_MISFIT, s1_95: B1_S1_95, s1_68: B1_S1_68, s3_95: B1_S3_95, s3_68: B1_S3_68,
  x95: B1_X95, x68: B1_X68, b1: B1_BEST_S1, b3: B1_BEST_S3, ax: B1_AX, gc: B1_GC, gcColor: TEAL,
  all: B1_HIST_ALL, g68: B1_HIST_68, best: B1_HIST_BEST, hist: {L: 561.7, w: 10.1, B: 472.7, ax0: 550, ax1: 662}});
bootNet({cx: 827.5, cy: 392.5, R: 87.5, misfit: B2_MISFIT, s1_95: B2_S1_95, s1_68: B2_S1_68, s3_95: B2_S3_95, s3_68: B2_S3_68,
  x95: B2_X95, x68: B2_X68, b1: B2_BEST_S1, b3: B2_BEST_S3, ax: B2_AX, gc: B2_GC, gcColor: TEAL,
  all: B2_HIST_ALL, g68: B2_HIST_68, best: B2_HIST_BEST, hist: {L: 923.3, w: 10, B: 478.3, ax0: 915, ax1: 1023}});
bootNet({cx: 825, cy: 847.5, R: 87, misfit: B3_MISFIT, s1_95: B3_S1_95, s1_68: B3_S1_68, s3_95: B3_S3_95, s3_68: B3_S3_68,
  x95: B3_X95, x68: B3_X68, b1: B3_BEST_S1, b3: B3_BEST_S3, ax: B3_AX, gc: B3_GC, gcColor: INK,
  all: B3_HIST_ALL, g68: B3_HIST_68, best: B3_HIST_BEST, hist: {L: 920, w: 10.2, B: 931.7, ax0: 910, ax1: 1023}});
bootNet({cx: 460, cy: 1278.5, R: 86.5, misfit: B4_MISFIT, s1_95: B4_S1_95, s1_68: B4_S1_68, s3_95: B4_S3_95, s3_68: B4_S3_68,
  x95: B4_X95, x68: B4_X68, b1: B4_BEST_S1, b3: B4_BEST_S3, ax: B4_AX, gc: B4_GC, gcColor: INK,
  all: B4_HIST_ALL, g68: B4_HIST_68, best: B4_HIST_BEST, hist: {L: 566.7, w: 10, B: 1365, ax0: 546.7, ax1: 653}});
bootNet({cx: 462, cy: 1518, R: 86, misfit: B5_MISFIT, s1_95: B5_S1_95, s1_68: B5_S1_68, s3_95: B5_S3_95, s3_68: B5_S3_68,
  x95: B5_X95, x68: B5_X68, b1: B5_BEST_S1, b3: B5_BEST_S3, ax: B5_AX, gc: B5_GC, gcColor: INK,
  all: B5_HIST_ALL, g68: B5_HIST_68, best: B5_HIST_BEST, hist: {L: 560, w: 10, B: 1606, ax0: 550, ax1: 655, line: false}});

// ---- titles ----
title(TITLE_60_100, 190, 65);
title(TITLE_100_200, 180, 287);
title(TITLE_200_300, 189, 517);
title(TITLE_300_400, 183, 743);
title(TITLE_400_500, 184, 958);
title(TITLE_500_600, 179, 1178);
title(TITLE_600_700, 183, 1413);
title(TITLE_60_200, 837, 283);
title(TITLE_300_500, 838, 742);
title(TITLE_25S, 832, 1172, 27);
title(TITLE_25S_DEPTH, 824, 1380);

Plotly.newPlot('chart', traces, layout, {staticPlot: true, displayModeBar: false});
</script>
</body></html>
